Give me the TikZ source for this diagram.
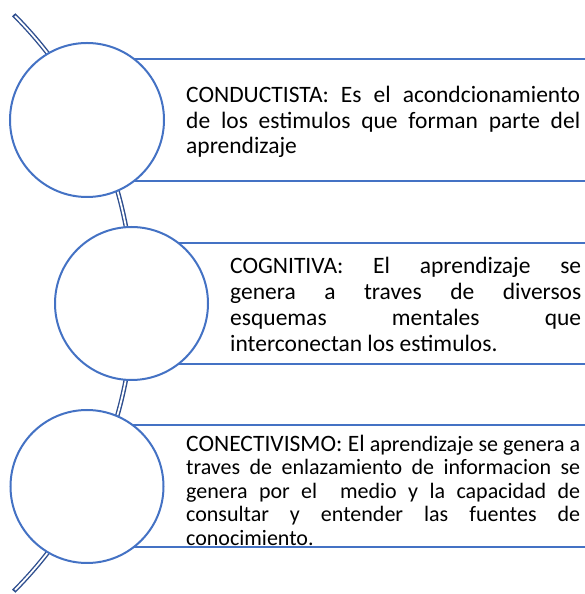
\documentclass[tikz,border=0pt]{standalone}
\usepackage{fontspec}
\setmainfont{Carlito}
\definecolor{sablue}{HTML}{4472C4}
\definecolor{sadark}{HTML}{2F4F8F}
\hyphenpenalty=10000
\exhyphenpenalty=10000
\tikzset{
  ring/.style={circle, draw=sablue, line width=2pt, fill=white, minimum size=#1, inner sep=0pt},
  rule/.style={draw=sablue, line width=1.8pt},
  arcouter/.style={draw=sadark, line width=4.6pt},
  arcinner/.style={draw=white, line width=1.8pt},
  txt/.style={anchor=west, inner sep=0pt, align=justify, text=black}
}
\begin{document}
\begin{tikzpicture}[x=1pt,y=1pt]
\useasboundingbox (0,0) rectangle (585,594);
% background arc (closed-end double band)
\coordinate (arcC) at (-274.5,291);
\draw[arcouter] (arcC) ++(45:407.6) arc[start angle=45, end angle=-45, radius=407.6];
\draw[arcinner] (arcC) ++(44.75:407.6) arc[start angle=44.75, end angle=-44.75, radius=407.6];
% circle centres
\coordinate (p1) at (87,474);
\coordinate (p2) at (131.5,290.5);
\coordinate (p3) at (87,107.5);
% horizontal rules
\coordinate (r1a) at (585,535);
\coordinate (r1b) at (585,413);
\coordinate (r2a) at (585,351);
\coordinate (r2b) at (585,230);
\coordinate (r3a) at (585,169);
\coordinate (r3b) at (585,47);
\draw[rule] (p1 |- r1a) -- (r1a);
\draw[rule] (p1 |- r1b) -- (r1b);
\draw[rule] (p2 |- r2a) -- (r2a);
\draw[rule] (p2 |- r2b) -- (r2b);
\draw[rule] (p3 |- r3a) -- (r3a);
\draw[rule] (p3 |- r3b) -- (r3b);
% circles
\node[ring=154pt] (c1) at (p1) {};
\node[ring=153pt] (c2) at (p2) {};
\node[ring=153pt] (c3) at (p3) {};
% texts
\node[txt, text width=394pt, font=\fontsize{23.5}{25.5}\selectfont] (t1) at (186,472)
 {CONDUCTISTA: Es el acondcionamiento\linebreak de los estimulos que forman parte del\linebreak aprendizaje};
\node[txt, text width=351pt, font=\fontsize{23.5}{26}\selectfont] (t2) at (230,290)
 {COGNITIVA: El aprendizaje se\linebreak genera a traves de diversos\linebreak esquemas mentales que\linebreak interconectan los estimulos.};
\node[txt, text width=394pt, font=\fontsize{22}{23.5}\selectfont] (t3) at (186,104)
 {{\fontsize{23.5}{23.5}\selectfont CONECTIVISMO: El} aprendizaje se genera a\linebreak traves de enlazamiento de informacion se\linebreak genera por el \ medio y la capacidad de\linebreak consultar y entender las fuentes de\linebreak conocimiento.};
\end{tikzpicture}
\end{document}
